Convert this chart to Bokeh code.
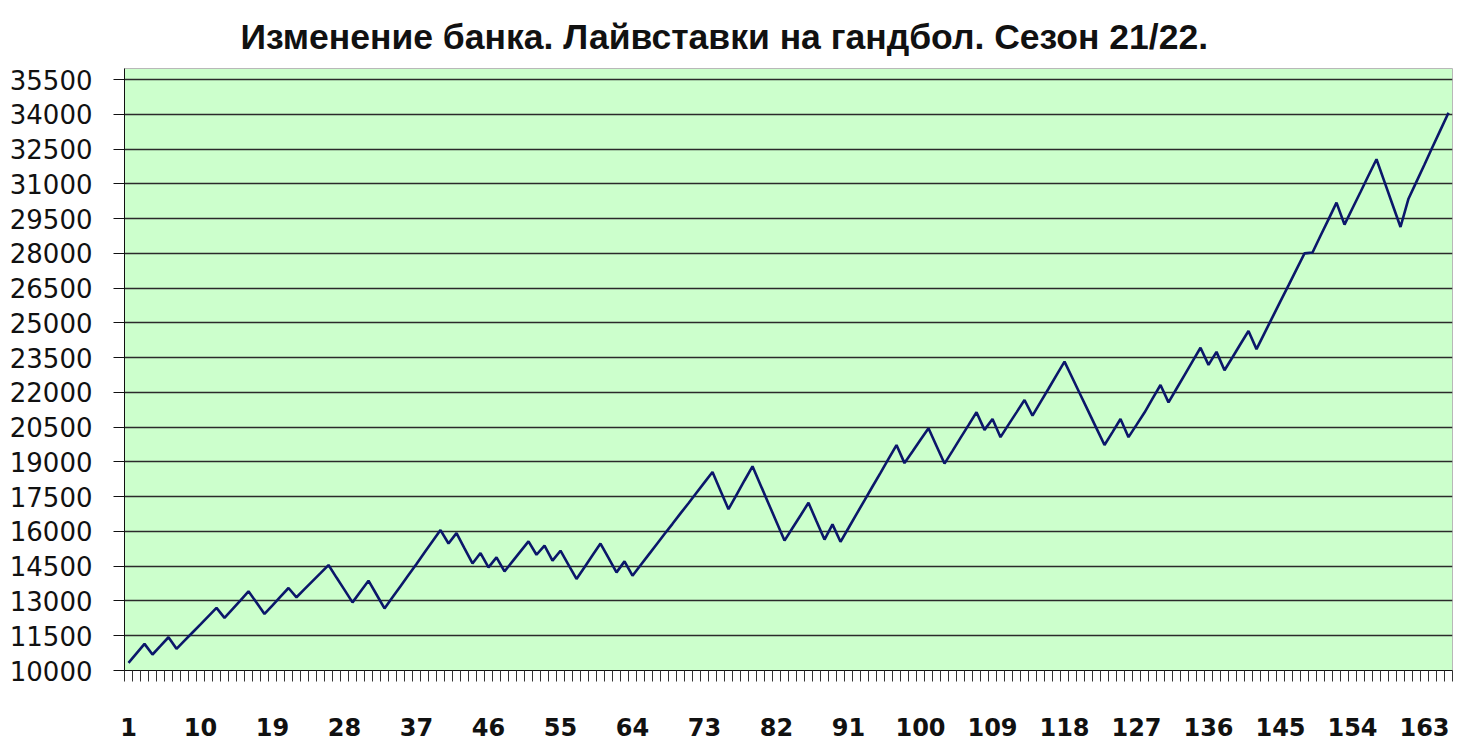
from bokeh.plotting import figure
from bokeh.models import Range1d, FixedTicker
from bokeh.embed import file_html
from bokeh.resources import INLINE

title_text = "Изменение банка. Лайвставки на гандбол. Сезон 21/22."

bank = [
    10330, 10740, 11150, 10690, 11060, 11435, 10935, 11290, 11640, 11990,
    12350, 12700, 12270, 12650, 13030, 13415, 12930, 12440, 12810, 13190,
    13560, 13160, 13510, 13860, 14200, 14550, 14010, 13480, 12940, 13410,
    13875, 13280, 12680, 13160, 13640, 14120, 14600, 15090, 15580, 16060,
    15480, 15930, 15270, 14620, 15070, 14450, 14880, 14275, 14710, 15140,
    15570, 14995, 15385, 14740, 15170, 14560, 13950, 14460, 14970, 15480,
    14860, 14235, 14710, 14090, 14540, 14990, 15440, 15890, 16330, 16780,
    17220, 17670, 18120, 18565, 17760, 16963, 17580, 18200, 18810, 18010,
    17210, 16410, 15607, 16150, 16690, 17238, 16440, 15650, 16305, 15555,
    16150, 16750, 17340, 17940, 18530, 19130, 19730, 18950, 19450, 19960,
    20457, 19690, 18930, 19480, 20040, 20590, 21144, 20384, 20850, 20070,
    20610, 21140, 21674, 20998, 21580, 22160, 22750, 23330, 22610, 21890,
    21170, 20450, 19730, 20290, 20856, 20070, 20600, 21133, 21730, 22320,
    21570, 22160, 22750, 23340, 23930, 23190, 23750, 22960, 23520, 24090,
    24650, 23870, 24560, 25250, 25940, 26620, 27310, 28000, 28040, 28760,
    29470, 30190, 29240, 29950, 30650, 31360, 32065, 31090, 30110, 29140,
    30360, 31100, 31840, 32590, 33330, 34070,
]
bet_no = list(range(1, len(bank) + 1))
x_labels = list(range(1, len(bank) + 1, 9))
y_ticks = list(range(10000, 35501, 1500))

p = figure(width=1458, height=740, output_backend="svg", toolbar_location=None,
           x_range=Range1d(0.5, len(bank) + 0.5), y_range=Range1d(10000, 35980),
           min_border_left=124, min_border_right=6, min_border_top=68,
           min_border_bottom=70)

p.title.text = title_text
p.title.text_font = "Liberation Sans"
p.title.text_font_style = "bold"
p.title.text_font_size = "35.5px"
p.title.align = "left"
p.title.offset = 116
p.title.standoff = 24
p.title.text_color = "#111111"

p.background_fill_color = "#ccffcc"
p.border_fill_color = "white"
p.outline_line_color = "#b8b8b8"

p.line(bet_no, bank, line_color="#0b176a", line_width=2.6)

# x axis
p.xaxis.ticker = FixedTicker(ticks=x_labels,
                             minor_ticks=[i + 0.5 for i in range(0, len(bank) + 1)])
p.xaxis.major_tick_out = 0
p.xaxis.major_tick_in = 0
p.xaxis.minor_tick_out = 11
p.xaxis.minor_tick_in = 0
p.xaxis.minor_tick_line_color = "#333333"
p.xaxis.axis_line_color = "#111111"
p.xaxis.major_label_standoff = 36
p.xaxis.major_label_text_font = "DejaVu Sans"
p.xaxis.major_label_text_font_style = "bold"
p.xaxis.major_label_text_font_size = "24px"
p.xaxis.major_label_text_color = "#111111"
p.xgrid.visible = False

# y axis
p.yaxis.ticker = FixedTicker(ticks=y_ticks, minor_ticks=[])
p.yaxis.major_tick_out = 11
p.yaxis.major_tick_in = 0
p.yaxis.major_tick_line_color = "#111111"
p.yaxis.axis_line_color = "#111111"
p.yaxis.major_label_standoff = 21
p.yaxis.major_label_text_font = "DejaVu Sans"
p.yaxis.major_label_text_font_size = "26px"
p.yaxis.major_label_text_color = "#111111"
p.yaxis.formatter.use_scientific = False
p.ygrid.ticker = FixedTicker(ticks=y_ticks)
p.ygrid.grid_line_color = "#2a2a2a"
p.ygrid.grid_line_width = 1.3

open("out.html", "w").write(file_html(p, INLINE))
